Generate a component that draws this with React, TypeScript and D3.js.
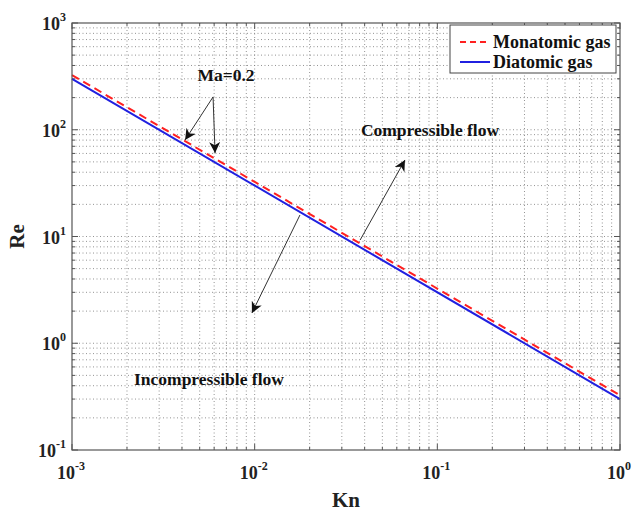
import React, { useEffect, useRef } from "react";
import * as d3 from "d3";

const knValues = [0.001, 1];
const reMonatomic = [325, 0.325];
const reDiatomic = [300, 0.3];
const seriesNames = ["Monatomic gas", "Diatomic gas"];
const seriesColors = ["#ff2020", "#2020e0"];
const xExps = [-3, -2, -1, 0];
const yExps = [-1, 0, 1, 2, 3];

const annotationTexts = [
  { text: "Ma=0.2", kn: 0.00697, re: 326 },
  { text: "Compressible flow", kn: 0.0912, re: 99.5 },
  { text: "Incompressible flow", kn: 0.00562, re: 0.462 },
];
const arrows = [
  { from: [0.00592, 203], to: [0.00416, 80.2] },
  { from: [0.00592, 203], to: [0.00607, 60.5] },
  { from: [0.0378, 9.27], to: [0.0665, 52.1] },
  { from: [0.0177, 15.9], to: [0.00966, 1.92] },
];

const W = 632, H = 511;
const L = 72, R = 620, T = 23, B = 450;
const FONT = "'Liberation Serif', 'DejaVu Serif', serif";

export default function App() {
  const ref = useRef<SVGSVGElement>(null);
  useEffect(() => {
    document.body.style.margin = "0";
    const svg = d3.select(ref.current);
    svg.selectAll("*").remove();
    const x = d3.scaleLog().domain([1e-3, 1]).range([L, R]);
    const y = d3.scaleLog().domain([1e-1, 1e3]).range([B, T]);

    const defs = svg.append("defs");
    defs.append("marker").attr("id", "ah").attr("viewBox", "0 0 10 10")
      .attr("refX", 10).attr("refY", 5).attr("markerWidth", 11).attr("markerHeight", 11)
      .attr("markerUnits", "userSpaceOnUse").attr("orient", "auto")
      .append("path").attr("d", "M0,0 L10,5 L0,10 L3,5 Z").attr("fill", "#111");

    svg.append("rect").attr("x", L).attr("y", T).attr("width", R - L).attr("height", B - T).attr("fill", "white");

    const xt: number[] = [];
    for (let e = -3; e < 0; e++) for (let m = 1; m < 10; m++) xt.push(m * Math.pow(10, e));
    xt.push(1);
    const yt: number[] = [];
    for (let e = -1; e < 3; e++) for (let m = 1; m < 10; m++) yt.push(m * Math.pow(10, e));
    yt.push(1000);

    const g = svg.append("g");
    g.selectAll(".gx").data(xt.filter(v => v > 1e-3 && v < 1)).enter().append("line")
      .attr("x1", d => x(d)).attr("x2", d => x(d)).attr("y1", T).attr("y2", B)
      .attr("stroke", "#777").attr("stroke-width", 0.8).attr("stroke-dasharray", "1,2.5");
    g.selectAll(".gy").data(yt.filter(v => v > 1e-1 && v < 1000)).enter().append("line")
      .attr("y1", d => y(d)).attr("y2", d => y(d)).attr("x1", L).attr("x2", R)
      .attr("stroke", "#777").attr("stroke-width", 0.8).attr("stroke-dasharray", "1,2.5");

    const isMajor = (v: number) => Math.abs(Math.log10(v) - Math.round(Math.log10(v))) < 1e-9;
    xt.forEach(v => {
      const len = isMajor(v) ? 6 : 3;
      g.append("line").attr("x1", x(v)).attr("x2", x(v)).attr("y1", B).attr("y2", B - len).attr("stroke", "#555");
      g.append("line").attr("x1", x(v)).attr("x2", x(v)).attr("y1", T).attr("y2", T + len).attr("stroke", "#555");
    });
    yt.forEach(v => {
      const len = isMajor(v) ? 6 : 3;
      g.append("line").attr("y1", y(v)).attr("y2", y(v)).attr("x1", L).attr("x2", L + len).attr("stroke", "#555");
      g.append("line").attr("y1", y(v)).attr("y2", y(v)).attr("x1", R).attr("x2", R - len).attr("stroke", "#555");
    });

    const line = d3.line<[number, number]>().x(d => x(d[0])).y(d => y(d[1]));
    const dMono = knValues.map((k, i) => [k, reMonatomic[i]] as [number, number]);
    const dDi = knValues.map((k, i) => [k, reDiatomic[i]] as [number, number]);
    g.append("path").attr("d", line(dDi)).attr("stroke", seriesColors[1]).attr("stroke-width", 2).attr("fill", "none");
    g.append("path").attr("d", line(dMono)).attr("stroke", seriesColors[0]).attr("stroke-width", 2)
      .attr("stroke-dasharray", "8,5").attr("fill", "none");

    svg.append("rect").attr("x", L).attr("y", T).attr("width", R - L).attr("height", B - T)
      .attr("fill", "none").attr("stroke", "#555").attr("stroke-width", 1.2);

    xExps.forEach(e => {
      const t = svg.append("text").attr("x", x(Math.pow(10, e)) - 1).attr("y", 479)
        .attr("text-anchor", "middle").attr("font-family", FONT).attr("font-weight", "bold").attr("font-size", 18).attr("fill", "#222");
      t.append("tspan").text("10");
      t.append("tspan").attr("dy", -9).attr("font-size", 12).text(String(e));
    });
    yExps.forEach(e => {
      const t = svg.append("text").attr("x", 66).attr("y", y(Math.pow(10, e)) + 7)
        .attr("text-anchor", "end").attr("font-family", FONT).attr("font-weight", "bold").attr("font-size", 18).attr("fill", "#222");
      t.append("tspan").text("10");
      t.append("tspan").attr("dy", -9).attr("font-size", 12).text(String(e));
    });

    svg.append("text").attr("x", (L + R) / 2).attr("y", 507).attr("text-anchor", "middle")
      .attr("font-family", FONT).attr("font-weight", "bold").attr("font-size", 21).attr("fill", "#222").text("Kn");
    svg.append("text").attr("transform", `translate(24,${(T + B) / 2}) rotate(-90)`).attr("text-anchor", "middle")
      .attr("font-family", FONT).attr("font-weight", "bold").attr("font-size", 21).attr("fill", "#222").text("Re");

    annotationTexts.forEach(a => {
      svg.append("text").attr("x", x(a.kn)).attr("y", y(a.re) + 6).attr("text-anchor", "middle")
        .attr("font-family", FONT).attr("font-weight", "bold").attr("font-size", 17.5).attr("fill", "#111").text(a.text);
    });
    arrows.forEach(a => {
      svg.append("line").attr("x1", x(a.from[0])).attr("y1", y(a.from[1]))
        .attr("x2", x(a.to[0])).attr("y2", y(a.to[1]))
        .attr("stroke", "#333").attr("stroke-width", 1).attr("marker-end", "url(#ah)");
    });

    const lg = svg.append("g");
    lg.append("rect").attr("x", 450).attr("y", 25).attr("width", 166).attr("height", 48)
      .attr("fill", "white").attr("stroke", "#444").attr("stroke-width", 1);
    seriesNames.forEach((n, i) => {
      const yy = 42 + i * 20;
      lg.append("line").attr("x1", 460).attr("x2", 490).attr("y1", yy).attr("y2", yy)
        .attr("stroke", seriesColors[i]).attr("stroke-width", 2).attr("stroke-dasharray", i === 0 ? "6,4" : null);
      lg.append("text").attr("x", 493).attr("y", yy + 6).attr("font-family", FONT).attr("font-weight", "bold")
        .attr("font-size", 18).attr("fill", "#111").text(n);
    });
  }, []);
  return <svg ref={ref} width={W} height={H} style={{ display: "block", background: "white" }} />;
}
